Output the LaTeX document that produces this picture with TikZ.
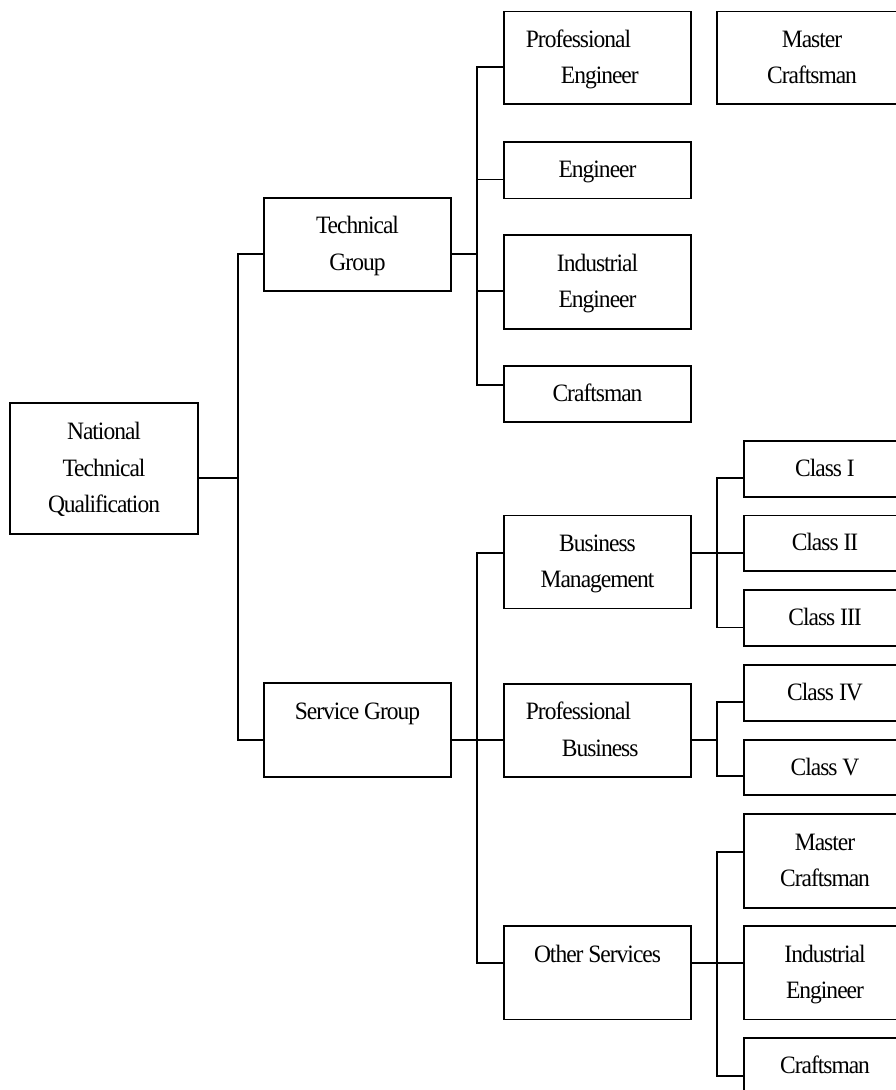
\documentclass[tikz,border=0pt]{standalone}
\usepackage{fontspec}
\newfontfamily\tnr[FakeStretch=0.94,LetterSpace=-4]{Liberation Serif}
\newcommand\sst{\rule[-6.4pt]{0pt}{28pt}}
\begin{document}
\begin{tikzpicture}[x=1pt,y=-1pt,
  line width=1.8pt,
  box/.style={draw, line width=1.8pt, inner sep=0pt, align=center,
    font=\tnr\fontsize{25}{36.5}\selectfont, minimum width=187.6pt},
  narrow/.style={box, minimum width=162.6pt},
  lbl/.style={inner sep=0pt, align=left, anchor=west,
    font=\tnr\fontsize{25}{36.5}\selectfont}]
\useasboundingbox (0,0) rectangle (896,1090);
\clip (0,0) rectangle (896,1090);

% column 0
\node[box, minimum width=187.4pt, minimum height=131.1pt] (ntq) at (104,468.8)
  {National\sst\\Technical\sst\\Qualification\sst};
% column 1
\node[box, minimum height=93pt] (tg) at (357.5,244.5) {Technical\sst\\Group\sst};
\node[box, minimum height=93.6pt] (sg) at (357.5,730.1) {Service Group\sst\\\sst};
% column 2
\node[box, minimum height=92.8pt] (pe) at (597.5,57.9) {};
\node[lbl] (peT) at (525,57.9) {Professional\sst\\\hspace*{35pt}Engineer\sst};
\node[box, minimum width=190pt, minimum height=92.8pt] (mc) at (812,57.9) {Master\sst\\Craftsman\sst};
\node[box, minimum height=56.7pt] (eng) at (597.5,170.2) {Engineer\sst};
\node[box, minimum height=93.5pt] (ie) at (597.5,282) {Industrial\sst\\Engineer\sst};
\node[box, minimum height=56.3pt] (cr) at (597.5,394.2) {Craftsman\sst};
\node[box, minimum height=93.1pt] (bm) at (597.5,562) {Business\sst\\Management\sst};
\node[box, minimum height=93.2pt] (pb) at (597.5,730.3) {};
\node[lbl] (pbT) at (525,730.3) {Professional\sst\\\hspace*{36pt}Business\sst};
\node[box, minimum height=93.2pt] (os) at (597.5,972.9) {Other Services\sst\\\sst};
% column 3
\node[narrow, minimum height=56.2pt] (c1) at (825,469) {Class I\sst};
\node[narrow, minimum height=55.5pt] (c2) at (825,543.3) {Class II\sst};
\node[narrow, minimum height=56pt] (c3) at (825,618.2) {Class III\sst};
\node[narrow, minimum height=55.9pt] (c4) at (825,693) {Class IV\sst};
\node[narrow, minimum height=55.3pt] (c5) at (825,767.7) {Class V\sst};
\node[narrow, minimum height=93.9pt] (mc2) at (825,860.7) {Master\sst\\Craftsman\sst};
\node[narrow, minimum height=93.2pt] (ie2) at (825,972.9) {Industrial\sst\\Engineer\sst};
\node[narrow, minimum height=56.2pt] (cr2) at (825,1066) {Craftsman\sst};

% trunk A
\coordinate (A1) at (237.7,254);
\coordinate (A2) at (237.7,478);
\coordinate (A3) at (237.7,739.7);
\draw (ntq.east |- A2) -- (A2);
\draw (tg.west |- A1) -- (A1) -- (A3) -- (sg.west |- A3);

% trunk B (technical)
\coordinate (B0) at (477.3,254);
\coordinate (B1) at (477.3,67);
\coordinate (B2) at (477.3,179.4);
\coordinate (B3) at (477.3,291.3);
\coordinate (B4) at (477.3,384.8);
\draw (tg.east |- B0) -- (B0);
\draw (pe.west |- B1) -- (B1) -- (B4) -- (cr.west |- B4);
\draw (B2) -- (eng.west |- B2);
\draw (B3) -- (ie.west |- B3);

% trunk B (service)
\coordinate (B5) at (477.3,552.6);
\coordinate (B6) at (477.3,739.7);
\coordinate (B7) at (477.3,963.2);
\draw (sg.east |- B6) -- (pb.west |- B6);
\draw (bm.west |- B5) -- (B5) -- (B7) -- (os.west |- B7);

% trunk C (business management)
\coordinate (C1) at (717.3,478);
\coordinate (C2) at (717.3,552.6);
\coordinate (C3) at (717.3,627.4);
\draw (bm.east |- C2) -- (c2.west |- C2);
\draw (c1.west |- C1) -- (C1) -- (C3) -- (c3.west |- C3);

% trunk C (professional business)
\coordinate (C4) at (717.3,702.1);
\coordinate (C5) at (717.3,739.7);
\coordinate (C6) at (717.3,776.2);
\draw (pb.east |- C5) -- (C5);
\draw (c4.west |- C4) -- (C4) -- (C6) -- (c5.west |- C6);

% trunk C (other services)
\coordinate (C7) at (717.3,851.6);
\coordinate (C8) at (717.3,963.2);
\coordinate (C9) at (717.3,1075.8);
\draw (os.east |- C8) -- (ie2.west |- C8);
\draw (mc2.west |- C7) -- (C7) -- (C9) -- (cr2.west |- C9);
\end{tikzpicture}
\end{document}
